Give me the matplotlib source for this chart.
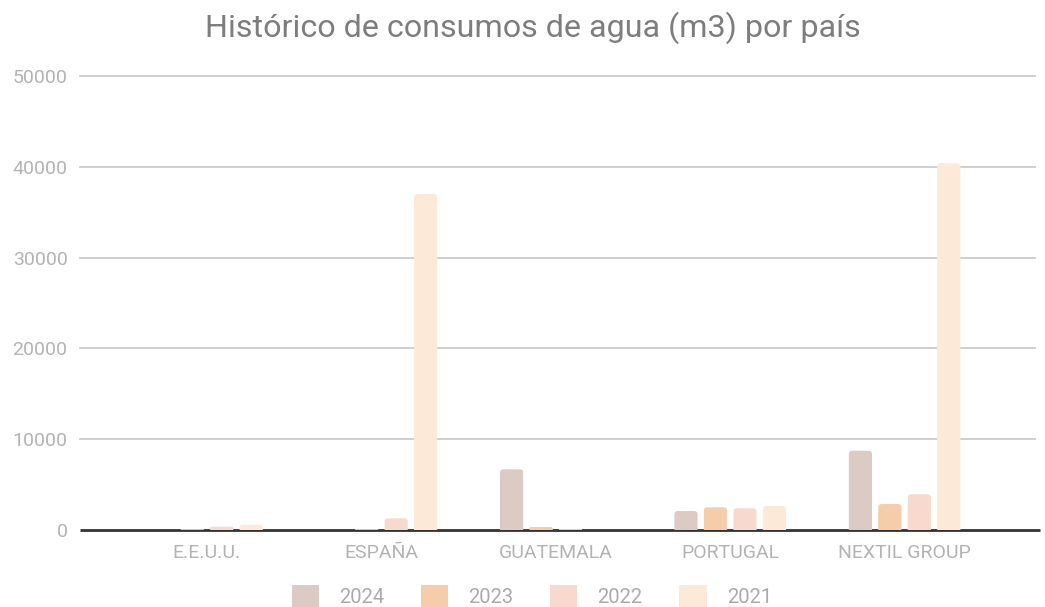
import matplotlib
matplotlib.use("Agg")
import matplotlib.pyplot as plt
from matplotlib.patches import FancyBboxPatch, Patch, Rectangle
import numpy as np

plt.rcParams['font.family'] = ['Roboto', 'DejaVu Sans']

categories = ["E.E.U.U.", "ESPAÑA", "GUATEMALA", "PORTUGAL", "NEXTIL GROUP"]
years = ["2024", "2023", "2022", "2021"]
v2024 = [0, 0, 6680, 2090, 8730]
v2023 = [100, 100, 330, 2500, 2860]
v2022 = [360, 1290, 100, 2390, 3930]
v2021 = [580, 37000, 0, 2640, 40400]
series = [v2024, v2023, v2022, v2021]
colors = ["#dccbc4", "#f6cdab", "#f7dacd", "#fde9d7"]

W, H = 1045, 607
fig = plt.figure(figsize=(W / 100, H / 100), dpi=100)
ax_l, ax_r, ax_t, ax_b = 80, 1035, 76, 530
ax = fig.add_axes([ax_l / W, (H - ax_b) / H, (ax_r - ax_l) / W, (ax_b - ax_t) / H])

sp = 174.4
xlim = ((ax_l - 207) / sp, (ax_r - 207) / sp)
ylim = (0, 50000)
ax.set_xlim(*xlim)
ax.set_ylim(*ylim)

x = np.arange(len(categories))
bw = 0.133
step = 0.169
xu = (xlim[1] - xlim[0]) / (ax_r - ax_l)
yu = (ylim[1] - ylim[0]) / (ax_b - ax_t)
r_px = 3.5
clip = Rectangle((xlim[0], 0), xlim[1] - xlim[0], ylim[1] * 1.1, transform=ax.transData)

for i, (vals, col) in enumerate(zip(series, colors)):
    offs = (i - 1.5) * step
    for xi, v in zip(x, vals):
        if v <= 0:
            continue
        left = xi + offs - bw / 2
        h_px = v / yu
        r = min(r_px, h_px / 2 + 0.01)
        bottom = -r_px * yu
        p = FancyBboxPatch((left, bottom), bw, v - bottom,
                           boxstyle=f"round,pad=0,rounding_size={r * xu}",
                           mutation_aspect=yu / xu,
                           facecolor=col, edgecolor='none', zorder=3)
        ax.add_patch(p)
        p.set_clip_path(clip)

for yv in [10000, 20000, 30000, 40000, 50000]:
    ax.axhline(yv, color="#cccccc", lw=1.3, zorder=1, clip_on=False)
ax.plot([xlim[0], xlim[1] + 5 * xu], [0, 0], color="#333333", lw=2.0, zorder=2,
        clip_on=False, solid_capstyle='butt')

ax.set_yticks([0, 10000, 20000, 30000, 40000, 50000])
ax.set_yticklabels(["0", "10000", "20000", "30000", "40000", "50000"])
ax.set_xticks(x)
ax.set_xticklabels(categories)
ax.tick_params(axis='both', length=0, labelsize=14, labelcolor="#b3b3b3")
ax.tick_params(axis='y', pad=9)
ax.tick_params(axis='x', pad=10)
for s in ax.spines.values():
    s.set_visible(False)

fig.text(533 / W, 1 - 28 / H, "Histórico de consumos de agua (m3) por país",
         ha='center', va='center', fontsize=23.2, color="#7d7d7d")

handles = [Patch(facecolor=c, edgecolor='none') for c in colors]
leg = fig.legend(handles, years, loc='center', bbox_to_anchor=(532 / W, 1 - 596 / H),
                 ncol=4, frameon=False, fontsize=14.5, labelcolor="#aaaaaa",
                 handlelength=1.35, handleheight=1.35, handletextpad=1.0,
                 columnspacing=1.82, borderaxespad=0, borderpad=0)

fig.savefig("out.png", dpi=100)
